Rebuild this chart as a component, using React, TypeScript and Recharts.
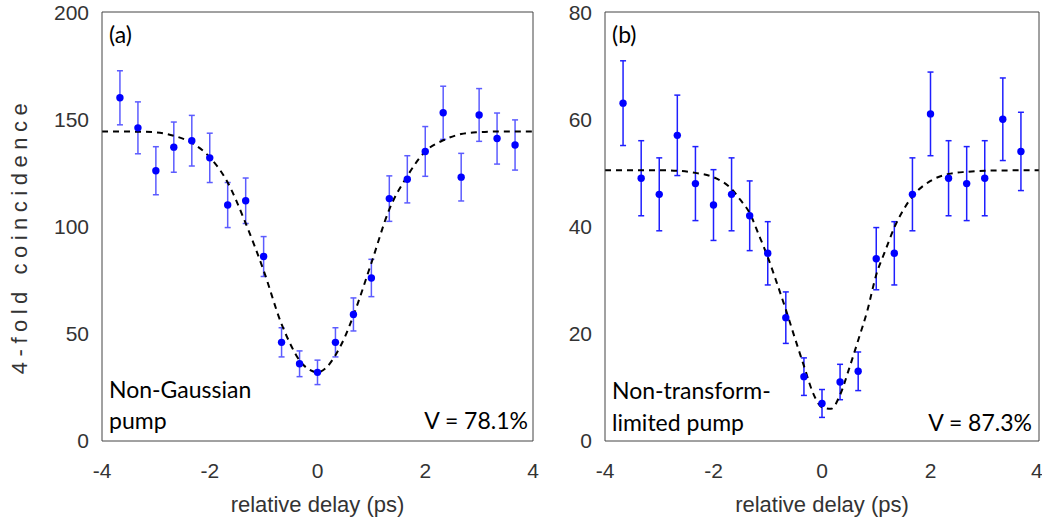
import React from 'react';
import { ComposedChart, Scatter, Line, XAxis, YAxis, ErrorBar } from 'recharts';

// relative delay (ps) of each measured point
const delays = [-3.667, -3.333, -3, -2.667, -2.333, -2, -1.667, -1.333, -1, -0.667, -0.333, 0, 0.333, 0.667, 1, 1.333, 1.667, 2, 2.333, 2.667, 3, 3.333, 3.667];

// panel (a): Non-Gaussian pump
const countsA = [160, 146, 126, 137, 140, 132, 110, 112, 86, 46, 36, 32, 46, 59, 76, 113, 122, 135, 153, 123, 152, 141, 138];
const errA = [12.6, 12.1, 11.2, 11.7, 11.8, 11.5, 10.5, 10.6, 9.3, 6.8, 6.0, 5.7, 6.8, 7.7, 8.7, 10.6, 11.0, 11.6, 12.4, 11.1, 12.3, 11.9, 11.7];
const fitXA = [-4, -3.333, -3, -2.667, -2.333, -2, -1.667, -1.333, -1, -0.667, -0.5, -0.333, -0.167, 0, 0.167, 0.333, 0.5, 0.667, 1, 1.333, 1.667, 2, 2.333, 2.667, 3, 3.333, 4];
const fitYA = [144.3, 144.2, 143.9, 142.3, 139, 132.3, 120.5, 101.5, 79.5, 54.5, 45, 37.5, 33.5, 32, 34.3, 40, 48, 58.5, 83, 108, 123.5, 135, 140.2, 143.1, 144, 144.3, 144.3];

// panel (b): Non-transform-limited pump
const countsB = [63, 49, 46, 57, 48, 44, 46, 42, 35, 23, 12, 7, 11, 13, 34, 35, 46, 61, 49, 48, 49, 60, 54];
const errB = [7.9, 7.0, 6.8, 7.5, 6.9, 6.6, 6.8, 6.5, 5.9, 4.8, 3.5, 2.6, 3.3, 3.6, 5.8, 5.9, 6.8, 7.8, 7.0, 6.9, 7.0, 7.7, 7.3];
const fitXB = [-4, -3, -2.667, -2.333, -2, -1.667, -1.5, -1.333, -1.167, -1, -0.833, -0.667, -0.5, -0.333, -0.167, 0, 0.167, 0.333, 0.5, 0.667, 0.833, 1, 1.167, 1.333, 1.5, 1.667, 2, 2.333, 2.667, 3, 4];
const fitYB = [50.5, 50.5, 50.4, 50.0, 49.2, 47, 44.9, 42.5, 38.5, 34.3, 29.5, 24.5, 19.2, 14, 9, 6.3, 6, 8.6, 13.5, 18.8, 24.2, 31, 35.5, 39.8, 43.1, 45.6, 48.5, 49.8, 50.2, 50.4, 50.5];

const xTicks = [-4, -2, 0, 2, 4];
const yTicksA = [0, 50, 100, 150, 200];
const yTicksB = [0, 20, 40, 60, 80];

const AXIS = '#444';
const TICKFONT = "'Liberation Sans', Arial, sans-serif";
const NOTEFONT = "Lato, 'Open Sans', sans-serif";

type PanelProps = {
  width: number;
  yWidth: number;
  rightMargin: number;
  yMax: number;
  yTicks: number[];
  counts: number[];
  errs: number[];
  fitX: number[];
  fitY: number[];
  barColor: string;
};

const Dot = (p: any) => <circle cx={p.cx} cy={p.cy} r={3.7} fill="#0000ff" />;

function Panel(props: PanelProps) {
  const pts = delays.map((x, i) => ({ x, y: props.counts[i], err: props.errs[i] }));
  const fit = props.fitX.map((x, i) => ({ x, y: props.fitY[i] }));
  const tickStyle = { fill: '#333', fontSize: 21, fontFamily: TICKFONT };
  return (
    <ComposedChart width={props.width} height={525} margin={{ top: 12, right: props.rightMargin, bottom: 0, left: 0 }}>
      <XAxis xAxisId="b" type="number" dataKey="x" domain={[-4, 4]} ticks={xTicks} allowDataOverflow
        height={84} tickLine={false} tickSize={0} tickMargin={22} axisLine={{ stroke: AXIS }} tick={tickStyle}
        label={{ value: 'relative delay (ps)', position: 'insideBottom', offset: 13, fill: '#333', fontSize: 22, fontFamily: TICKFONT }} />
      <XAxis xAxisId="bm" type="number" dataKey="x" domain={[-4, 4]} ticks={xTicks} allowDataOverflow
        mirror height={1} tick={false} tickLine={{ stroke: AXIS }} tickSize={5} axisLine={false} />
      <XAxis xAxisId="t" orientation="top" type="number" dataKey="x" domain={[-4, 4]} ticks={xTicks} allowDataOverflow
        mirror height={1} tick={false} tickLine={{ stroke: AXIS }} tickSize={5} axisLine={{ stroke: AXIS }} />
      <YAxis yAxisId="l" type="number" domain={[0, props.yMax]} ticks={props.yTicks} allowDataOverflow
        width={props.yWidth} tickLine={false} tickSize={0} tickMargin={13} axisLine={{ stroke: AXIS }} tick={tickStyle} />
      <YAxis yAxisId="lm" type="number" domain={[0, props.yMax]} ticks={props.yTicks} allowDataOverflow
        mirror width={1} tick={false} tickLine={{ stroke: AXIS }} tickSize={5} axisLine={false} />
      <YAxis yAxisId="r" orientation="right" type="number" domain={[0, props.yMax]} ticks={props.yTicks} allowDataOverflow
        mirror width={1} tick={false} tickLine={{ stroke: AXIS }} tickSize={5} axisLine={{ stroke: AXIS }} />
      <Scatter xAxisId="b" yAxisId="l" data={pts} dataKey="y" shape={Dot} isAnimationActive={false}>
        <ErrorBar dataKey="err" direction="y" width={3} stroke={props.barColor} strokeWidth={1.5} />
      </Scatter>
      <Line xAxisId="b" yAxisId="l" data={fit} dataKey="y" type="monotone" stroke="#000" strokeWidth={2}
        strokeDasharray="6 5" dot={false} activeDot={false} isAnimationActive={false} />
    </ComposedChart>
  );
}

export default function App() {
  const note = { fontFamily: NOTEFONT, fontSize: 23, fill: '#000' } as React.CSSProperties;
  return (
    <div style={{ position: 'absolute', left: 0, top: 0, width: 1042, height: 525, background: '#fff', overflow: 'hidden' }}>
      <div style={{ position: 'absolute', left: 0, top: 0 }}>
        <Panel width={545} yWidth={102} rightMargin={12} yMax={200} yTicks={yTicksA}
          counts={countsA} errs={errA} fitX={fitXA} fitY={fitYA} barColor="#5c5cff" />
      </div>
      <div style={{ position: 'absolute', left: 545, top: 0 }}>
        <Panel width={497} yWidth={60} rightMargin={3} yMax={80} yTicks={yTicksB}
          counts={countsB} errs={errB} fitX={fitXB} fitY={fitYB} barColor="#1f1fff" />
      </div>
      <svg width={1042} height={525} style={{ position: 'absolute', left: 0, top: 0, pointerEvents: 'none' }}>
        <text transform="translate(27,236) rotate(-90)" textAnchor="middle" fill="#333" fontSize={22}
          fontFamily={TICKFONT} style={{ letterSpacing: '5.5px' }}>4-fold coincidence</text>
        <text x={109} y={43} style={note}>(a)</text>
        <text x={109} y={398} style={note}>Non-Gaussian</text>
        <text x={109} y={429} style={note}>pump</text>
        <text x={528} y={429} textAnchor="end" style={note}>V = 78.1%</text>
        <text x={612} y={43} style={note}>(b)</text>
        <text x={612} y={399} style={note}>Non-transform-</text>
        <text x={612} y={431} style={note}>limited pump</text>
        <text x={1032} y={431} textAnchor="end" style={note}>V = 87.3%</text>
      </svg>
    </div>
  );
}
